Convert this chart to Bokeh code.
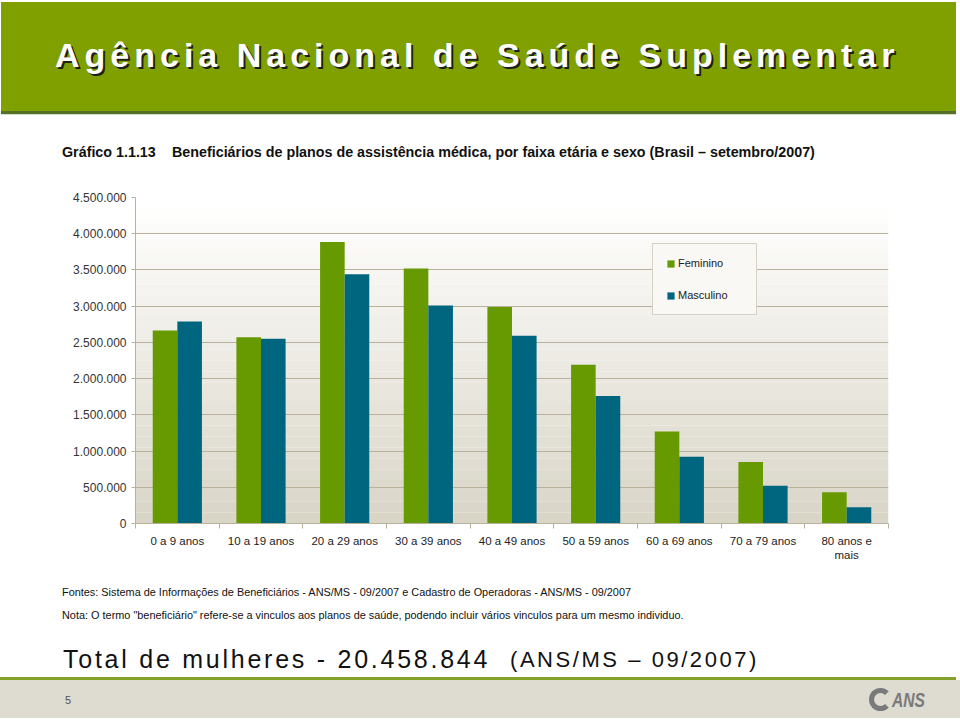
from bokeh.plotting import figure
from bokeh.models import (Range1d, BoxAnnotation, Legend, LegendItem, Div,
                          LinearAxis, FixedTicker, ColumnDataSource)
from bokeh.layouts import column
from bokeh.transform import dodge
from bokeh.embed import file_html
from bokeh.resources import INLINE

# ---------------- data ----------------
categories = ["0 a 9 anos", "10 a 19 anos", "20 a 29 anos", "30 a 39 anos", "40 a 49 anos",
              "50 a 59 anos", "60 a 69 anos", "70 a 79 anos", "80 anos e\nmais"]
feminino = [2665000, 2570000, 3885000, 3520000, 2990000, 2190000, 1270000, 850000, 430000]
masculino = [2790000, 2550000, 3440000, 3010000, 2590000, 1760000, 920000, 520000, 225000]
y_ticks = [0, 500000, 1000000, 1500000, 2000000, 2500000, 3000000, 3500000, 4000000, 4500000]
y_tick_labels = ["0", "500.000", "1.000.000", "1.500.000", "2.000.000", "2.500.000",
                 "3.000.000", "3.500.000", "4.000.000", "4.500.000"]
series_names = ["Feminino", "Masculino"]

header_title = "Agência Nacional de Saúde Suplementar"
chart_number = "Gráfico 1.1.13"
chart_title = "Beneficiários de planos de assistência médica, por faixa etária e sexo (Brasil – setembro/2007)"
note_sources = "Fontes: Sistema de Informações de Beneficiários - ANS/MS - 09/2007 e Cadastro de Operadoras - ANS/MS - 09/2007"
note_text = "Nota: O termo &quot;beneficiário&quot; refere-se a vinculos aos planos de saúde, podendo incluir vários vinculos para um mesmo individuo."
total_text = "Total de mulheres - 20.458.844"
total_source = "(ANS/MS – 09/2007)"
page_number = "5"
logo_text = "ANS"

# ---------------- styles ----------------
W = 960
BAR_F = "#679a01"
BAR_M = "#00667f"
GRID = "#b9b19b"
SANS = "Liberation Sans"
FONT_CSS = "'Liberation Sans', Arial, sans-serif"

# ---------------- header (slide chrome + chart title) ----------------
header_html = f"""
<div style="position:relative;width:{W}px;height:180px;background:#ffffff;overflow:hidden;">
  <div style="position:absolute;left:1px;top:2px;width:955px;height:109px;background:#80a000;"></div>
  <div style="position:absolute;left:1px;top:111px;width:955px;height:3px;background:#56702a;"></div>
  <div style="position:absolute;left:1px;top:114px;width:955px;height:1px;background:#cfe3c6;"></div>
  <div style="position:absolute;left:55px;top:38px;height:34px;line-height:34px;white-space:nowrap;
       font-family:{FONT_CSS};font-weight:bold;font-size:34px;letter-spacing:5px;color:#ffffff;
       text-shadow:2px 2px 0 #1e1e1e;">{header_title}</div>
  <div style="position:absolute;left:62px;top:144px;height:16px;line-height:16px;white-space:nowrap;
       font-family:{FONT_CSS};font-weight:bold;font-size:14.3px;color:#111111;">{chart_number}</div>
  <div style="position:absolute;left:172px;top:144px;height:16px;line-height:16px;white-space:nowrap;
       font-family:{FONT_CSS};font-weight:bold;font-size:14.3px;color:#111111;">{chart_title}</div>
</div>
"""
header = Div(text=header_html, width=W, height=180, margin=0)

# ---------------- chart ----------------
n_cat = len(categories)
centers = [i + 0.5 for i in range(n_cat)]
bounds = list(range(n_cat + 1))

chart = figure(width=W, height=395, x_range=Range1d(0, n_cat), y_range=Range1d(0, 4500000),
               x_axis_location=None, output_backend="svg", toolbar_location=None,
               min_border_left=135, min_border_right=72, min_border_top=17, min_border_bottom=52,
               background_fill_color="white", border_fill_color="white", outline_line_color=None)

# gradient background of the plot area
n_bands = 30
top_c = (255, 255, 255)
bot_c = (217, 213, 199)
for i in range(n_bands):
    t = i / (n_bands - 1)
    c = tuple(int(round(top_c[k] + (bot_c[k] - top_c[k]) * t)) for k in range(3))
    b0 = 4500000 * (1 - (i + 1) / n_bands)
    b1 = 4500000 * (1 - i / n_bands)
    chart.add_layout(BoxAnnotation(bottom=b0, top=b1, fill_color="#%02x%02x%02x" % c, fill_alpha=1,
                                   line_color=None, level="image"))

chart.xgrid.visible = False
chart.ygrid.ticker = FixedTicker(ticks=y_ticks)
chart.ygrid.grid_line_color = GRID
chart.ygrid.grid_line_width = 1

yax = chart.yaxis[0]
yax.ticker = FixedTicker(ticks=y_ticks)
yax.major_label_overrides = dict(zip(y_ticks, y_tick_labels))
yax.axis_line_color = GRID
yax.major_tick_line_color = GRID
yax.major_tick_out = 4
yax.major_tick_in = 0
yax.minor_tick_line_color = None
yax.major_label_standoff = 5
yax.major_label_text_font = SANS
yax.major_label_text_font_size = "12px"
yax.major_label_text_color = "#333333"

cat_axis = LinearAxis(ticker=FixedTicker(ticks=centers, minor_ticks=bounds),
                      major_label_overrides=dict(zip(centers, categories)),
                      axis_line_color=GRID, major_tick_line_color=None, major_tick_out=0, major_tick_in=0,
                      minor_tick_line_color=GRID, minor_tick_out=5, minor_tick_in=0,
                      major_label_standoff=6, major_label_text_font=SANS,
                      major_label_text_font_size="11.5px", major_label_text_color="#222222")
chart.add_layout(cat_axis, "below")

src = ColumnDataSource(dict(x=centers, cat=categories, fem=feminino, mas=masculino))
r_f = chart.vbar(x=dodge("x", -0.147), top="fem", width=0.294, source=src,
                 fill_color=BAR_F, line_color=None)
r_m = chart.vbar(x=dodge("x", 0.147), top="mas", width=0.294, source=src,
                 fill_color=BAR_M, line_color=None)

legend = Legend(items=[LegendItem(label=series_names[0], renderers=[r_f]),
                       LegendItem(label=series_names[1], renderers=[r_m])],
                location=(517, 208), orientation="vertical",
                padding=13, spacing=20, label_height=12, label_width=65,
                glyph_width=9, glyph_height=9, label_standoff=3,
                label_text_font=SANS, label_text_font_size="11px", label_text_color="#222222",
                border_line_color="#b4ac98", border_line_width=1,
                background_fill_color="#f9f8f4", background_fill_alpha=1)
chart.add_layout(legend)

# ---------------- footer (notes + slide chrome) ----------------
footer_html = f"""
<div style="position:relative;width:{W}px;height:143px;background:#ffffff;overflow:hidden;">
  <div style="position:absolute;left:62px;top:11px;height:12px;line-height:12px;white-space:nowrap;
       font-family:{FONT_CSS};font-size:10.9px;color:#111111;">{note_sources}</div>
  <div style="position:absolute;left:62px;top:34px;height:12px;line-height:12px;white-space:nowrap;
       font-family:{FONT_CSS};font-size:10.9px;color:#111111;">{note_text}</div>
  <div style="position:absolute;left:63px;top:72px;height:25px;line-height:25px;white-space:nowrap;
       font-family:{FONT_CSS};font-size:25px;letter-spacing:2.75px;color:#111111;">{total_text}</div>
  <div style="position:absolute;left:510px;top:74px;height:22px;line-height:22px;white-space:nowrap;
       font-family:{FONT_CSS};font-size:22px;letter-spacing:2.55px;color:#111111;">{total_source}</div>
  <div style="position:absolute;left:0px;top:102px;width:956px;height:3px;background:#84a22a;"></div>
  <div style="position:absolute;left:0px;top:105px;width:{W}px;height:38px;background:#dedbd0;"></div>
  <div style="position:absolute;left:65px;top:119px;height:12px;line-height:12px;white-space:nowrap;
       font-family:{FONT_CSS};font-size:11px;color:#555555;">{page_number}</div>
  <div style="position:absolute;left:869px;top:113px;box-sizing:border-box;width:23px;height:23px;
       border:5px solid #7a7a7a;border-right-color:transparent;border-radius:50%;"></div>
  <div style="position:absolute;left:892px;top:115px;height:20px;line-height:20px;white-space:nowrap;
       font-family:{FONT_CSS};font-weight:bold;font-style:italic;font-size:20px;color:#7a7a7a;
       transform:scaleX(0.78);transform-origin:left center;">{logo_text}</div>
</div>
"""
footer = Div(text=footer_html, width=W, height=143, margin=0)

layout = column(header, chart, footer, spacing=0)
open("out.html", "w").write(file_html(layout, INLINE))
